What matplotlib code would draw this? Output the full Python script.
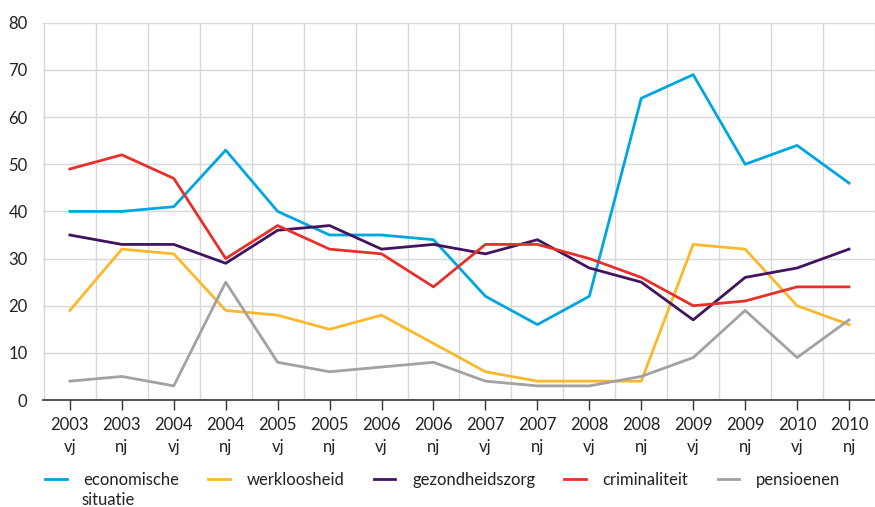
import numpy as np
import matplotlib.pyplot as plt

labels = ["2003\nvj", "2003\nnj", "2004\nvj", "2004\nnj", "2005\nvj", "2005\nnj",
          "2006\nvj", "2006\nnj", "2007\nvj", "2007\nnj", "2008\nvj", "2008\nnj",
          "2009\nvj", "2009\nnj", "2010\nvj", "2010\nnj"]

economische = [40, 40, 41, 53, 40, 35, 35, 34, 22, 16, 22, 64, 69, 50, 54, 46]
werkloosheid = [19, 32, 31, 19, 18, 15, 18, 12, 6, 4, 4, 4, 33, 32, 20, 16]
gezondheidszorg = [35, 33, 33, 29, 36, 37, 32, 33, 31, 34, 28, 25, 17, 26, 28, 32]
criminaliteit = [49, 52, 47, 30, 37, 32, 31, 24, 33, 33, 30, 26, 20, 21, 24, 24]
pensioenen = [4, 5, 3, 25, 8, 6, 7, 8, 4, 3, 3, 5, 9, 19, 9, 17]

plt.rcParams['font.family'] = ['Lato', 'DejaVu Sans']

fig = plt.figure(figsize=(8.75, 5.07), dpi=100)
ax = fig.add_axes([0.049, 0.211, 0.951, 0.744])

x = np.arange(len(labels))
ax.plot(x, economische, color='#00a6e2', lw=2, label='economische')
ax.plot(x, werkloosheid, color='#fbb82c', lw=2, label='werkloosheid')
ax.plot(x, gezondheidszorg, color='#42145f', lw=2, label='gezondheidszorg')
ax.plot(x, criminaliteit, color='#e8302a', lw=2, label='criminaliteit')
ax.plot(x, pensioenen, color='#a2a2a2', lw=2, label='pensioenen')

ax.set_xlim(-0.52, 15.5)
ax.set_ylim(0, 80)
ax.set_yticks(range(0, 81, 10))
ax.set_xticks(x)
ax.set_xticklabels(labels, fontsize=12, color='#222222', linespacing=1.5)
ax.set_xticks(np.arange(-0.5, 15.6, 1), minor=True)
ax.tick_params(axis='x', which='major', length=7, width=1, color='#333333', pad=5)
ax.tick_params(axis='x', which='minor', length=0)
ax.tick_params(axis='y', length=0, labelsize=12, labelcolor='#222222', pad=11)

ax.grid(True, which='minor', axis='x', color='#d8d8d8', lw=1)
ax.grid(True, which='major', axis='y', color='#d8d8d8', lw=1)
ax.set_axisbelow(True)
for s in ['top', 'right', 'left']:
    ax.spines[s].set_visible(False)
ax.spines['bottom'].set_color('#333333')
ax.spines['bottom'].set_linewidth(1.2)

# legend in one row, second line of the first label added as text below
fig.legend(loc='center left', bbox_to_anchor=(0.0514, 1 - 480 / 507), ncol=5, frameon=False,
           fontsize=12, handlelength=1.3, handletextpad=1.0, columnspacing=1.75,
           borderpad=0, borderaxespad=0, labelcolor='#222222')
fig.text(81 / 875, 1 - 500 / 507, 'situatie', fontsize=12, color='#222222',
         ha='left', va='center')

fig.savefig('out.png', dpi=100)
